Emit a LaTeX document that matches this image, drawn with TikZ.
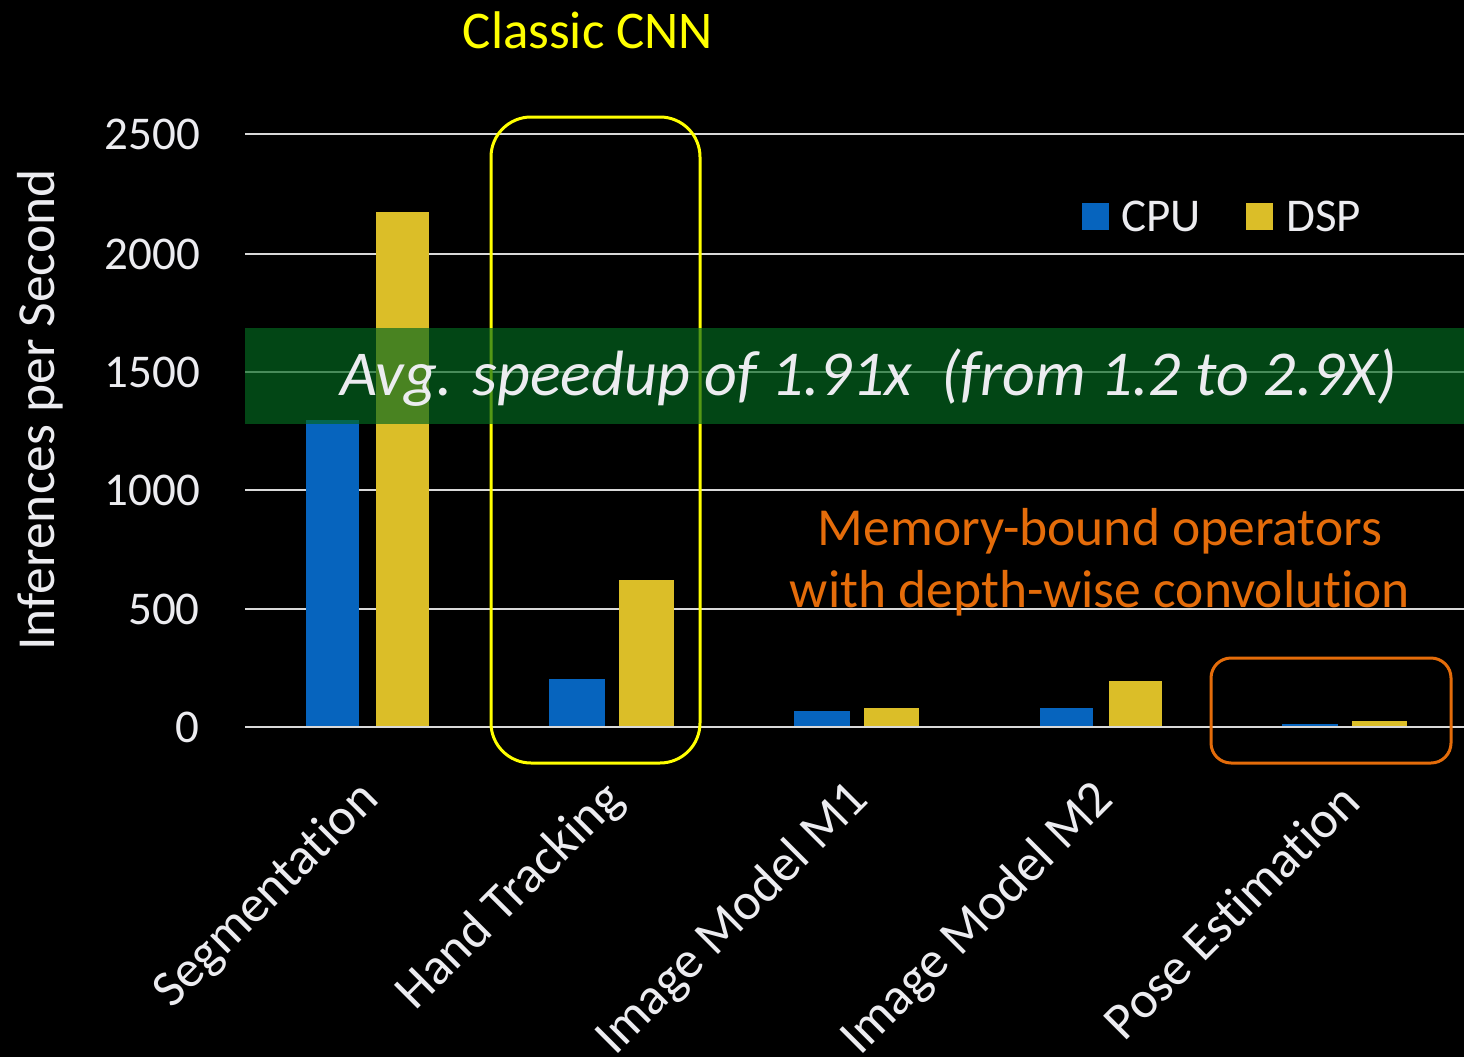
\documentclass[tikz,border=0pt]{standalone}
\usepackage{fontspec}
\setmainfont{Carlito}[Ligatures=NoCommon]
\definecolor{cpublue}{RGB}{6,100,190}
\definecolor{dspyellow}{RGB}{219,190,40}
\definecolor{gridgray}{RGB}{217,217,217}
\definecolor{txtwhite}{RGB}{236,236,240}
\definecolor{bandgreen}{RGB}{4,104,31}
\definecolor{memorange}{RGB}{228,108,10}
\definecolor{cnnyellow}{RGB}{255,255,0}
\begin{document}
\begin{tikzpicture}[x=1pt,y=-1pt,
  gridline/.style={draw=gridgray,line width=2pt},
  cpubar/.style={fill=cpublue},
  dspbar/.style={fill=dspyellow},
  ticklabel/.style={anchor=east,text=txtwhite,font=\fontsize{47}{56}\selectfont,inner sep=0pt},
  catlabel/.style={anchor=east,rotate=45,text=txtwhite,font=\fontsize{52}{62}\selectfont,inner sep=0pt},
  legtext/.style={anchor=west,text=txtwhite,font=\fontsize{47}{56}\selectfont,inner sep=0pt},
  memtext/.style={anchor=base,text=memorange,font=\fontsize{53.5}{64}\selectfont,inner sep=0pt}
]
\fill[black] (0,0) rectangle (1464,1057);
\useasboundingbox (0,0) rectangle (1464,1057);
% grid
\foreach \yy/\lab in {134/2500,254/2000,372/1500,490/1000,609/500,727/0}{
  \draw[gridline] (245,\yy) -- (1464,\yy);
  \node[ticklabel] (t\lab) at (200,\yy) {\lab};
}
% bars
\fill[cpubar] (306,420) rectangle (359,727);
\fill[dspbar] (376,212) rectangle (429,727);
\fill[cpubar] (549,679) rectangle (605,727);
\fill[dspbar] (619,580) rectangle (674,727);
\fill[cpubar] (794,711) rectangle (850,727);
\fill[dspbar] (864,708) rectangle (919,727);
\fill[cpubar] (1040,708) rectangle (1093,727);
\fill[dspbar] (1109,681) rectangle (1162,727);
\fill[cpubar] (1282,724) rectangle (1338,727);
\fill[dspbar] (1352,721) rectangle (1407,727);
\draw[gridline] (245,727) -- (1464,727);
% boxes
\draw[cnnyellow,line width=3pt,rounded corners=40pt] (491,117) rectangle (700,763);
\draw[memorange,line width=3pt,rounded corners=20pt] (1211,658) rectangle (1451,763);
% green band
\fill[bandgreen,opacity=0.68] (245,328) rectangle (1464,424);
\node[anchor=base,text=txtwhite,font=\fontsize{64}{76}\selectfont\itshape,inner sep=0pt] (speed) at (869,395) {Avg. speedup of 1.91x\ \ (from 1.2 to 2.9X)};
% titles
\node[text=cnnyellow,font=\fontsize{53}{63}\selectfont,inner sep=0pt] (cnn) at (588,30) {Classic CNN};
\node[rotate=90,text=txtwhite,font=\fontsize{53.5}{64}\selectfont,inner sep=0pt] (ytitle) at (40,410) {Inferences per Second};
% legend
\fill[cpublue] (1082,203) rectangle (1109,230);
\node[legtext] (lcpu) at (1121,216) {CPU};
\fill[dspyellow] (1246,203) rectangle (1273,230);
\node[legtext] (ldsp) at (1286,216) {DSP};
% memory text
\node[memtext] (mem1) at (1100,545) {Memory-bound operators};
\node[memtext] (mem2) at (1100,607) {with depth-wise convolution};
% categories
\node[catlabel] (c1) at (371,792) {Segmentation};
\node[catlabel] (c2) at (616,792) {Hand Tracking};
\node[catlabel] (c3) at (861,792) {Image Model M1};
\node[catlabel] (c4) at (1106,792) {Image Model M2};
\node[catlabel] (c5) at (1350,792) {Pose Estimation};
\end{tikzpicture}
\end{document}
